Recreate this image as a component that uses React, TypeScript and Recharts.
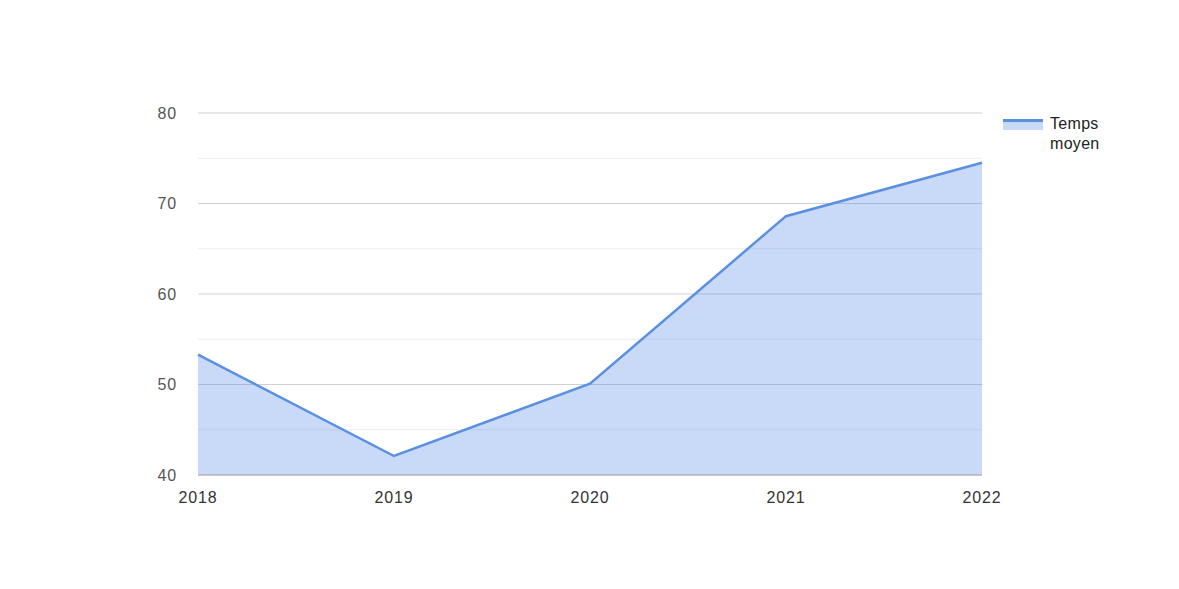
import { Area, AreaChart, CartesianGrid, XAxis, YAxis } from 'recharts';

const years = ['2018', '2019', '2020', '2021', '2022'];
const tempsMoyen = [53.3, 42.1, 50.1, 68.6, 74.5];
const yTicks = [40, 50, 60, 70, 80];
const minorTicks = [45, 55, 65, 75];

const data = years.map((year, i) => ({ year, value: tempsMoyen[i] }));

const lineColor = '#5b8fe0';
const fontFamily = 'Arial, "Liberation Sans", sans-serif';

function LegendBox() {
  return (
    <div
      style={{
        position: 'absolute',
        left: 1003,
        top: 114,
        display: 'flex',
        alignItems: 'flex-start',
        fontFamily,
        fontSize: 16,
        letterSpacing: 0.3,
        color: '#222',
      }}
    >
      <div style={{ width: 40, height: 11, marginTop: 5, background: 'rgba(74,134,232,0.3)', borderTop: `3px solid ${lineColor}`, boxSizing: 'border-box' }} />
      <div style={{ marginLeft: 7, lineHeight: '20px' }}>
        Temps
        <br />
        moyen
      </div>
    </div>
  );
}

export default function App() {
  return (
    <div style={{ position: 'absolute', left: 0, top: 0, width: 1179, height: 589, background: '#fff' }}>
      <AreaChart width={1179} height={589} data={data} margin={{ top: 113, right: 197, bottom: 84, left: 148 }}>
        <CartesianGrid vertical={false} stroke="#ededed" horizontalValues={minorTicks} />
        <CartesianGrid vertical={false} stroke="#d0d0d0" horizontalValues={yTicks} />
        <XAxis
          dataKey="year"
          tickLine={false}
          axisLine={{ stroke: '#aaaaaa' }}
          tick={{ fill: '#333', fontSize: 16, fontFamily, letterSpacing: 0.8 }}
          tickMargin={11}
          height={30}
        />
        <YAxis
          domain={[40, 80]}
          ticks={yTicks}
          tickLine={false}
          axisLine={false}
          width={50}
          tickMargin={15}
          tick={{ fill: '#555', fontSize: 16, fontFamily, letterSpacing: 0.8 }}
        />
        <Area
          type="linear"
          dataKey="value"
          name="Temps moyen"
          stroke={lineColor}
          strokeWidth={2.5}
          fill="#4a86e8"
          fillOpacity={0.3}
          dot={false}
          activeDot={false}
          isAnimationActive={false}
        />
      </AreaChart>
      <LegendBox />
    </div>
  );
}
